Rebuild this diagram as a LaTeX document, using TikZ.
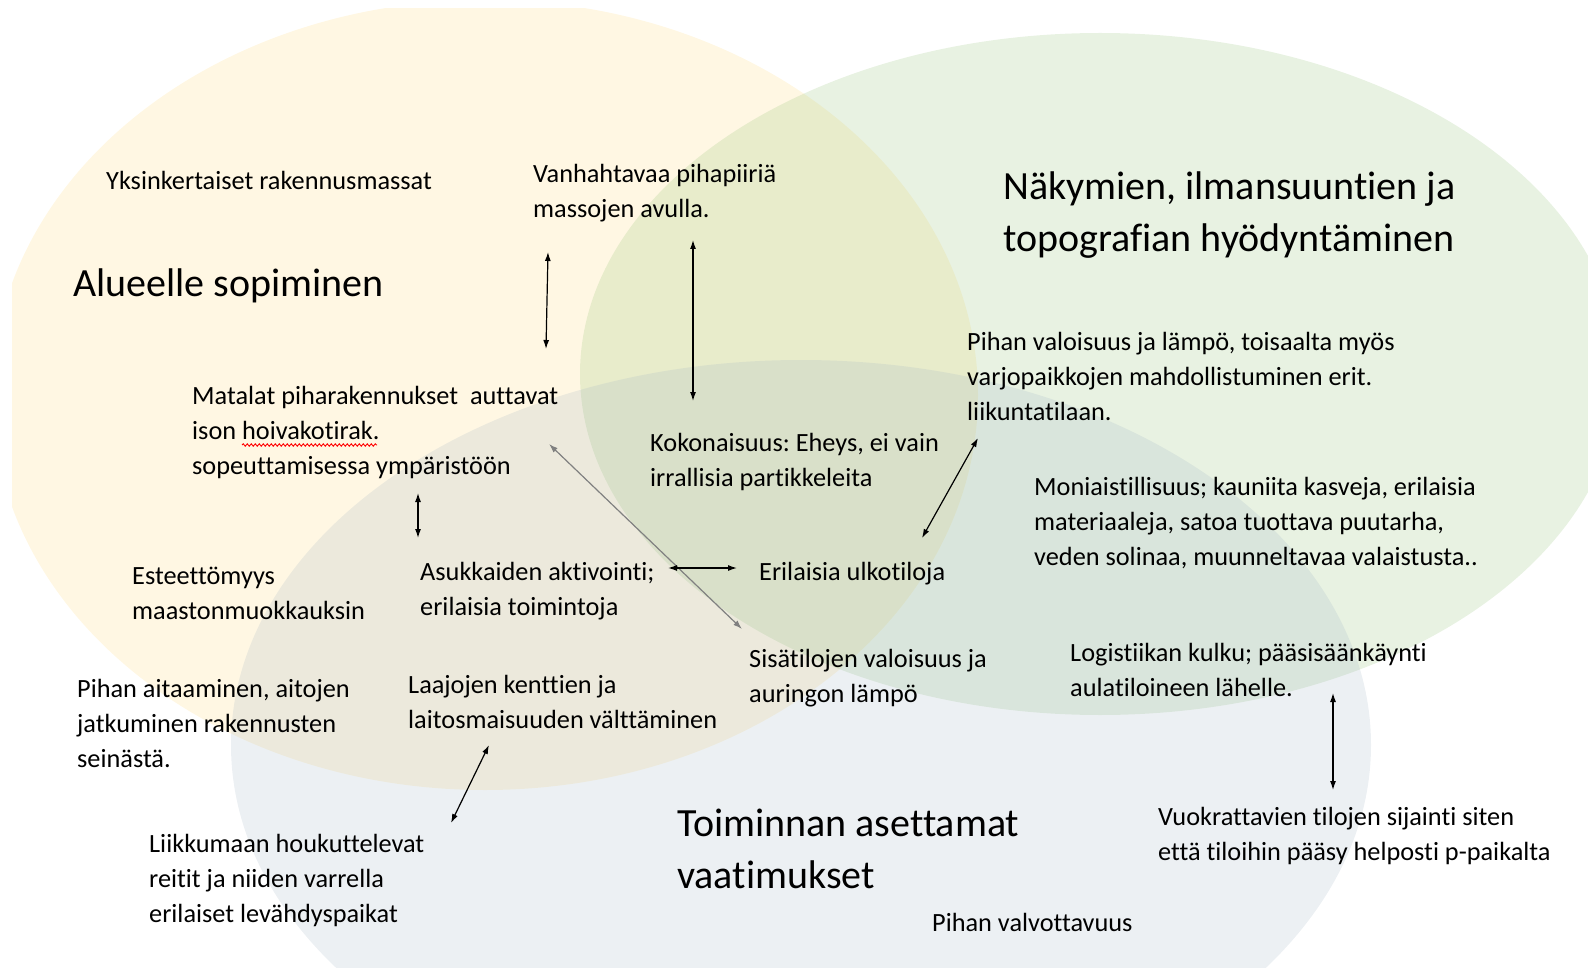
\documentclass[tikz,border=0pt]{standalone}
\usepackage{fontspec}
\setmainfont{Carlito}[Ligatures=NoCommon]
\frenchspacing
\usetikzlibrary{arrows.meta,decorations.pathmorphing}
\definecolor{cyel}{RGB}{255,215,115}
\definecolor{cgrn}{RGB}{140,190,110}
\definecolor{cblu}{RGB}{160,180,195}
\newcommand{\bodyfs}{\fontsize{26.3}{35}\selectfont}
\newcommand{\titlefs}{\fontsize{40}{52}\selectfont}
\begin{document}
\begin{tikzpicture}[x=1pt,y=-1pt,
  venn/.style={fill opacity=0.2},
  txt/.style={anchor=north west, inner sep=0pt, align=left, font=\bodyfs},
  ttl/.style={anchor=north west, inner sep=0pt, align=left, font=\titlefs},
  dbl/.style={{Latex[length=9pt,width=6pt]}-{Latex[length=9pt,width=6pt]}, line width=1.2pt, draw=black},
  dblgray/.style={dbl, draw=black!50}]
\useasboundingbox (0,0) rectangle (1588,968);
\begin{scope}
  \clip (12,9) rectangle (1588,968);
  \fill[cyel, venn] (485,395) ellipse [x radius=493, y radius=395];
  \fill[cgrn, venn] (1100,374) ellipse [x radius=520, y radius=341];
  \fill[cblu, venn] (801,745) ellipse [x radius=570, y radius=385];
\end{scope}

% titles
\node[ttl] (tA) at (73,259.6) {\strut Alueelle sopiminen};
\node[ttl] (tN) at (1003,162.6) {\strut Näkymien, ilmansuuntien ja\\topografian hyödyntäminen};
\node[ttl] (tT) at (677,799.6) {\strut Toiminnan asettamat\\vaatimukset};

% texts
\node[txt] (yks) at (106,164.4) {\strut Yksinkertaiset rakennusmassat};
\node[txt] (van) at (533,157.4) {\strut Vanhahtavaa pihapiiriä\\massojen avulla.};
\node[txt] (pva) at (967,325.4) {\strut Pihan valoisuus ja lämpö, toisaalta myös\\varjopaikkojen mahdollistuminen erit.\\liikuntatilaan.};
\node[txt] (mat) at (192,379.4) {\strut Matalat piharakennukset~ auttavat\\ison hoivakotirak.\\sopeuttamisessa ympäristöön};
\node[txt] (kok) at (650,426.4) {\strut Kokonaisuus: Eheys, ei vain\\irrallisia partikkeleita};
\node[txt] (mon) at (1034,470.4) {\strut Moniaistillisuus; kauniita kasveja, erilaisia\\materiaaleja, satoa tuottava puutarha,\\veden solinaa, muunneltavaa valaistusta..};
\node[txt] (est) at (132,559.4) {\strut Esteettömyys\\maastonmuokkauksin};
\node[txt] (asu) at (420,555.4) {\strut Asukkaiden aktivointi;\\erilaisia toimintoja};
\node[txt] (eri) at (759,555.4) {\strut Erilaisia ulkotiloja};
\node[txt] (sis) at (749,642.4) {\strut Sisätilojen valoisuus ja\\auringon lämpö};
\node[txt] (log) at (1070,636.4) {\strut Logistiikan kulku; pääsisäänkäynti\\aulatiloineen lähelle.};
\node[txt] (ait) at (77,672.4) {\strut Pihan aitaaminen, aitojen\\jatkuminen rakennusten\\seinästä.};
\node[txt] (laa) at (408,668.4) {\strut Laajojen kenttien ja\\laitosmaisuuden välttäminen};
\node[txt] (lii) at (149,827.4) {\strut Liikkumaan houkuttelevat\\reitit ja niiden varrella\\erilaiset levähdyspaikat};
\node[txt] (vuo) at (1158,800.4) {\strut Vuokrattavien tilojen sijainti siten\\että tiloihin pääsy helposti p-paikalta};
\node[txt] (val) at (932,906.4) {\strut Pihan valvottavuus};

% spell-check underline
\draw[red, line width=0.9pt, decorate, decoration={snake, amplitude=1.2pt, segment length=4pt}] (242,445) -- (377,445);

% arrow end points
\coordinate (a1) at (548,252); \coordinate (a2) at (546,349);
\coordinate (b1) at (693,240); \coordinate (b2) at (693,401);
\coordinate (c1) at (418,493); \coordinate (c2) at (418,538);
\coordinate (d1) at (549,444); \coordinate (d2) at (742,629);
\coordinate (e1) at (668,568); \coordinate (e2) at (737,568);
\coordinate (f1) at (978,438); \coordinate (f2) at (922,538);
\coordinate (g1) at (489,745); \coordinate (g2) at (451,823);
\coordinate (h1) at (1333,693); \coordinate (h2) at (1333,790);

\draw[dbl] (a1) -- (a2);
\draw[dbl] (b1) -- (b2);
\draw[dbl] (c1) -- (c2);
\draw[dblgray] (d1) -- (d2);
\draw[dbl] (e1) -- (e2);
\draw[dbl] (f1) -- (f2);
\draw[dbl] (g1) -- (g2);
\draw[dbl] (h1) -- (h2);
\end{tikzpicture}
\end{document}
